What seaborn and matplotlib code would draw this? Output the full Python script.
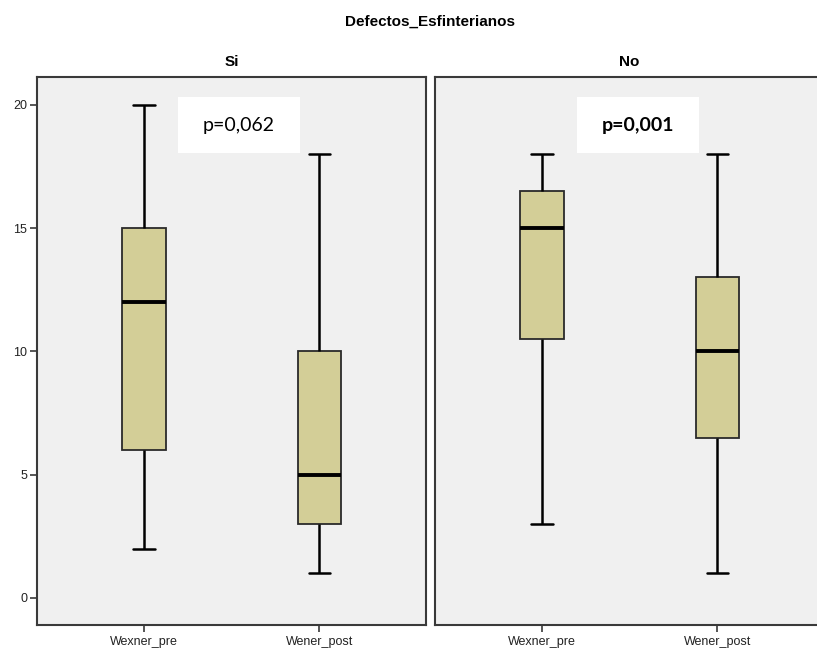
import matplotlib
matplotlib.use("Agg")
import matplotlib.pyplot as plt
import numpy as np
import pandas as pd
import seaborn as sns

# ---- data (five-number summaries: min, Q1, median, Q3, max) ----
groups = ["Si", "No"]
variables = ["Wexner_pre", "Wener_post"]
si_wexner_pre = [2, 6, 12, 15, 20]
si_wener_post = [1, 3, 5, 10, 18]
no_wexner_pre = [3, 10.5, 15, 16.5, 18]
no_wener_post = [1, 6.5, 10, 13, 18]
p_values = ["p=0,062", "p=0,001"]
p_bold = [False, True]
yticks = [0, 5, 10, 15, 20]
title = "Defectos_Esfinterianos"

rows = []
for g, pre, post in [("Si", si_wexner_pre, si_wener_post), ("No", no_wexner_pre, no_wener_post)]:
    for v in pre:
        rows.append((g, "Wexner_pre", v))
    for v in post:
        rows.append((g, "Wener_post", v))
df = pd.DataFrame(rows, columns=["grupo", "variable", "valor"])

sns.set_style("white")
plt.rcParams["font.family"] = ["Liberation Sans", "DejaVu Sans"]
plt.rcParams["text.color"] = "black"
plt.rcParams["xtick.color"] = "#222222"
plt.rcParams["ytick.color"] = "#222222"

fig = plt.figure(figsize=(8.17, 6.5), dpi=100)
W, H = 817, 650
ax_top, ax_bot = 77, 625
panels = [(37, 426), (435, 824)]
axes = []
for (x0, x1) in panels:
    ax = fig.add_axes([x0 / W, 1 - ax_bot / H, (x1 - x0) / W, (ax_bot - ax_top) / H])
    axes.append(ax)

box_color = "#D3CE97"
for i, (ax, g) in enumerate(zip(axes, groups)):
    sub = df[df["grupo"] == g]
    sns.boxplot(data=sub, x="variable", y="valor", order=variables, ax=ax,
                color=box_color, saturation=1, width=0.25, whis=(0, 100),
                linecolor="black", linewidth=1.8,
                boxprops=dict(edgecolor="#2a2a2a", linewidth=1.3),
                medianprops=dict(color="black", linewidth=2.8),
                whiskerprops=dict(color="black", linewidth=1.8),
                capprops=dict(color="black", linewidth=1.8))
    ax.set_facecolor("#F0F0F0")
    ax.set_xlim(-0.61, 1.607)
    ax.set_ylim(-1.1, 21.13)
    ax.set_xlabel("")
    ax.set_ylabel("")
    for s in ax.spines.values():
        s.set_visible(True)
        s.set_color("#3a3a3a")
        s.set_linewidth(1.5)
    ax.tick_params(axis="x", bottom=True, length=5, width=1.2, color="#3a3a3a",
                   labelsize=9, pad=3, labelcolor="#222222")
    ax.set_yticks(yticks)
    if i == 0:
        ax.tick_params(axis="y", left=True, length=5, width=1.2, color="#3a3a3a",
                       labelsize=9, pad=2, labelcolor="#222222")
    else:
        ax.tick_params(axis="y", left=False, labelleft=False)
    ax.set_title(g, fontsize=11, fontweight="bold", pad=8, color="black")

# p-value boxes
pbox = [(178, 300), (577, 699)]
for (x0, x1), txt, b in zip(pbox, p_values, p_bold):
    fig.patches.append(plt.Rectangle((x0 / W, 1 - 153 / H), (x1 - x0) / W, 56 / H,
                                     transform=fig.transFigure, facecolor="white",
                                     edgecolor="none", zorder=5))
    fig.text((x0 + x1) / 2 / W, 1 - 125 / H, txt, ha="center", va="center",
             fontsize=14, fontweight="bold" if b else "normal", color="black",
             family=["Lato", "DejaVu Sans"], zorder=6)

fig.text(430 / W, 1 - 22 / H, title, ha="center", va="center",
         fontsize=11, fontweight="bold", color="black")

fig.savefig("out.png", dpi=100, facecolor="white")
